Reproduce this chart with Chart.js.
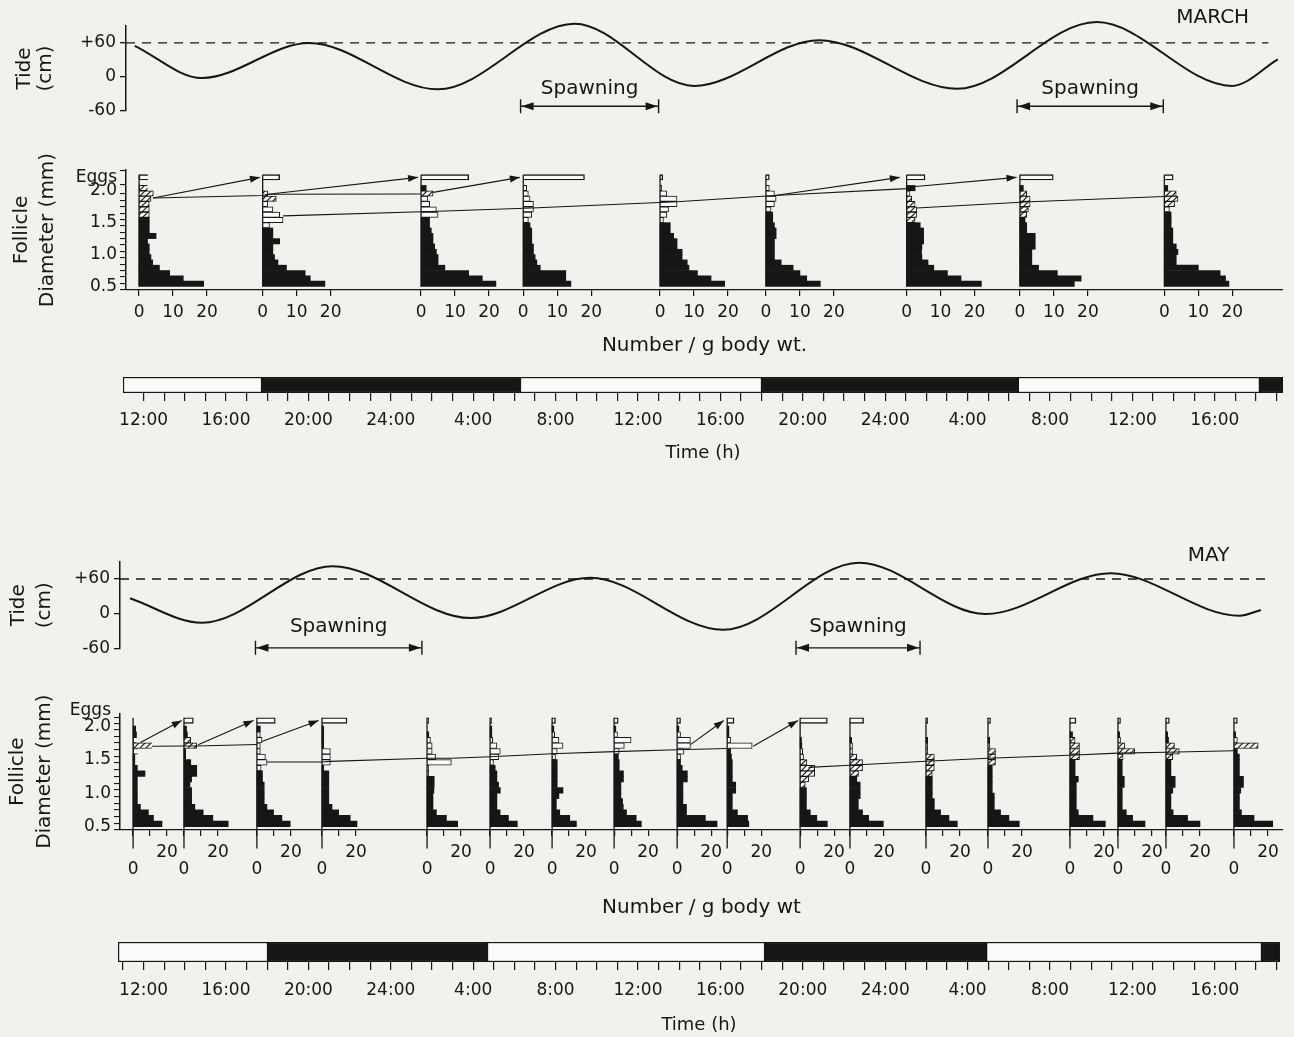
<!DOCTYPE html>
<html>
<head>
<meta charset="utf-8">
<title>Tide, follicle diameter and spawning - March and May</title>
<script src="https://cdn.jsdelivr.net/npm/chart.js@4.4.0/dist/chart.umd.min.js"></script>
<style>
  body { margin: 0; background: #f3f1ee; }
  #fig { position: relative; width: 1294px; height: 1037px; }
  #fig canvas { position: absolute; left: 0; }
</style>
</head>
<body>
<div id="fig">
  <canvas id="marchTide" width="1294" height="125" style="top:0px"></canvas>
  <canvas id="marchHist" width="1294" height="215" style="top:150px"></canvas>
  <canvas id="marchDay" width="1294" height="105" style="top:365px"></canvas>
  <canvas id="mayTide" width="1294" height="125" style="top:540px"></canvas>
  <canvas id="mayHist" width="1294" height="235" style="top:690px"></canvas>
  <canvas id="mayDay" width="1294" height="107" style="top:930px"></canvas>
</div>
<script>
// time is in hours counted from 12:00 on the first day
const timeLabels = ['12:00', '16:00', '20:00', '24:00', '4:00', '8:00', '12:00',
  '16:00', '20:00', '24:00', '4:00', '8:00', '12:00', '16:00'];
const tideTickLabels = { '-60': '-60', '0': '0', '60': '+60' };

// tide turning points [hour, cm]
const marchTide = [[-0.43, 55], [2.83, -2], [8.03, 60], [14.28, -22], [20.92, 94], [26.72, -16],
  [32.79, 65], [39.49, -21], [46.26, 97], [52.83, -16], [55.06, 31]];
const mayTide = [[-0.66, 27], [2.83, -15], [9.17, 82], [15.89, -7], [21.67, 62], [28.13, -27],
  [34.73, 88], [40.88, 0], [46.95, 70], [53.2, -3], [54.24, 7]];

// spawning periods [start, end]
const marchSpawn = [[18.3, 25.0], [42.4, 49.5]];
const maySpawn = [[5.43, 13.51], [31.67, 37.69]];

// light / dark periods
const marchLight = [[-1.0, 5.75], [18.27, 30.02], [42.44, 54.19]];
const marchDark = [[5.75, 18.27], [30.02, 42.44], [54.19, 55.32]];
const mayLight = [[-1.24, 6.04], [16.67, 30.17], [40.9, 54.29]];
const mayDark = [[6.04, 16.67], [30.17, 40.9], [54.29, 55.17]];

// follicle samples: time, counts per 1/12 mm class from 0.5 mm, stage of each class, eggs
// stage: B = previtellogenic (black), H = maturing (hatched), O = maturing (open)
const marchTimes = [-0.22, 5.78, 13.47, 18.43, 25.07, 30.21, 37.04, 42.54, 49.55];
const marchCounts = [
  [19, 13, 9, 6, 4, 3.5, 3, 3, 2.5, 5, 3, 3, 3, 3, 3, 3, 3.5, 4.2, 2.5],
  [18.3, 14, 12.5, 7, 4.5, 3.5, 3, 3, 5, 3, 3, 2, 6, 5, 3, 1.5, 4, 1.5, 0],
  [22, 18, 14, 7, 5, 5, 4.5, 4, 3.5, 3.5, 3, 2.5, 2.5, 5, 4.5, 2.5, 2, 3.5, 1.5],
  [14, 12.5, 12.5, 5, 4, 3.5, 3, 3, 2.5, 2.5, 2.5, 2, 1.5, 2.5, 3, 3, 2, 1.5, 1],
  [19, 15, 11, 8.5, 8, 6.5, 6.5, 5, 5, 4, 3, 3, 1, 2, 2.5, 5, 5, 2, 0.5],
  [16, 12, 10, 8, 4.5, 2.5, 2.5, 2.5, 2.5, 3, 3, 2.5, 2, 2, 1.5, 2.5, 3, 2.5, 1],
  [22, 16, 12, 8, 6.3, 4.5, 4.4, 4.5, 5, 5, 5, 4, 2.5, 3, 3, 2.5, 1.5, 1, 2.5],
  [16, 18, 11, 5.5, 3.5, 3.5, 3.5, 4.5, 4.5, 4.5, 2, 2, 1.5, 2, 2.5, 3, 3, 2, 1],
  [19, 18, 16.4, 10, 3.5, 3.5, 4, 3.5, 2.5, 2.5, 2.5, 2, 2, 2, 1.5, 3, 4, 3.5, 1]
];
const marchStages = ['BBBBBBBBBBBBBHHHHHH', 'BBBBBBBBBBBOOOOOHHB', 'BBBBBBBBBBBBBOOOOHB',
  'BBBBBBBBBBBBOOOOOOO', 'BBBBBBBBBBBBOOOOOOO', 'BBBBBBBBBBBBBBOOOOO', 'BBBBBBBBBBBBHHHHHOB',
  'BBBBBBBBBBBBBHHHHHB', 'BBBBBBBBBBBBBBOHHHB'];
const marchEggs = [2.6, 5, 14, 18, 0.8, 1, 5.4, 9.8, 2.6];
// cohort lines and arrows to eggs: [sample, count, mm]
const marchChains = [
  [[0, 4.1, 1.886], [1, 0, 1.926], [1, 1.6, 1.945], [2, 0, 1.95]],
  [[1, 6, 1.606], [2, 5, 1.68], [3, 2.5, 1.73], [4, 4.9, 1.827], [5, 2.6, 1.926], [6, 0, 2.034], [6, 1.9, 2.063]],
  [[6, 2.9, 1.729], [7, 2.9, 1.827], [8, 0, 1.91]]
];
const marchArrows = [
  [[0, 4.1, 1.886], [1, -0.8, 'eggs']],
  [[1, 1.6, 1.945], [2, -0.9, 'eggs']],
  [[2, 3.5, 1.975], [3, -1, 'eggs']],
  [[5, 2.6, 1.926], [6, -2, 'eggs']],
  [[6, 1.9, 2.063], [7, -1, 'eggs']]
];

const mayTimes = [-0.51, 1.96, 5.5, 8.66, 13.76, 16.82, 19.83, 22.84, 25.9, 28.33, 31.87, 34.29,
  37.98, 40.99, 44.97, 47.3, 49.63, 52.93];
const mayCounts = [
  [17, 12, 9, 4.3, 2.5, 2.5, 2.5, 2.5, 2.5, 7, 2.5, 1, 1, 3, 11, 2, 2, 1.5],
  [26, 17, 11.3, 6.4, 4.5, 4.5, 4.5, 3.5, 4.5, 7.5, 7.5, 4, 1, 1, 7.5, 4, 2, 1.5],
  [19.6, 14.7, 9.8, 5.9, 4.3, 4.3, 4.3, 4.3, 3.3, 3.3, 2.5, 6, 5, 2, 2, 3, 2, 2],
  [20.6, 16.6, 9.8, 5.9, 4, 4, 4, 4, 4, 4, 1, 4.9, 4.9, 4.9, 1, 1, 1, 1],
  [18, 11.4, 5.5, 3.5, 3.5, 3.5, 4, 4.2, 4.2, 1, 1, 14.3, 5, 3, 3, 2, 1, 0],
  [16, 10.8, 5.9, 4, 4, 4, 6, 5, 4, 4, 3, 2, 5, 6, 4, 1.5, 1, 1],
  [14.3, 10.4, 4.5, 2.5, 2.5, 4, 6.4, 3, 3, 3, 3, 3, 2, 3, 6.4, 4, 1.5, 1],
  [16, 13, 7.3, 5.4, 5, 4, 4, 4, 5.5, 5.5, 3, 3, 2.5, 3, 6, 10, 2, 1],
  [23.5, 16.6, 5.5, 5.5, 3.4, 3.4, 3.4, 3.4, 6, 6, 3, 2, 2, 4, 7.8, 7.8, 2, 1],
  [12.7, 12, 6, 3, 3, 3, 5, 5, 3, 3, 3, 3, 2.5, 2, 14.7, 2, 1, 1],
  [16, 9.8, 6, 3.7, 3.7, 3.7, 3.7, 3, 5, 8.6, 8.6, 4, 2, 1.5, 1, 0.8, 0, 0],
  [19.6, 11, 7.4, 4.9, 4.9, 6, 6, 6, 4, 5, 7.4, 7.4, 4, 1.5, 1.5, 1, 0, 0],
  [18.4, 13.5, 8.6, 4.9, 4.9, 3.7, 3.7, 3.7, 3.7, 3.7, 4.9, 4.9, 4.9, 1, 1, 1, 0, 0],
  [18.4, 12.3, 7.4, 3.7, 3.7, 3.7, 2.5, 2.5, 2.5, 2.5, 2.5, 4.4, 4.4, 4.4, 1, 1, 0, 0],
  [20.8, 13.5, 4.9, 3.7, 3.7, 3.7, 3.7, 3.7, 4.9, 3, 3, 3, 5.6, 5.6, 5.6, 3, 1.5, 0],
  [15.9, 8.6, 4.9, 2.5, 2.5, 2.5, 2.5, 3.7, 3.7, 2.5, 2.5, 2.5, 3, 9.8, 4, 1.5, 1, 0],
  [20, 12.7, 4.2, 2.9, 2.9, 2.9, 4, 5.4, 5.4, 2.9, 2.9, 2.9, 4, 7.8, 5, 1.5, 1, 0],
  [22.8, 11.8, 4.4, 3.2, 3.2, 3.2, 4, 5.6, 5.6, 3.2, 3.2, 3.2, 3.2, 2, 14.2, 2, 1, 0]
];
const mayStages = ['BBBBBBBBBBBBBOHOBB', 'BBBBBBBBBBBBBBHHBB', 'BBBBBBBBBBOOOOOOOB', 'BBBBBBBBBBBOOOBBBB',
  'BBBBBBBBBOOOOOOOBB', 'BBBBBBBBBBBOOOOOBB', 'BBBBBBBBBBBBOOOOOB', 'BBBBBBBBBBBBBOOOOB',
  'BBBBBBBBBBBBOOOOOB', 'BBBBBBBBBBBBBBOOBB', 'BBBBBBBHHHHHOOBBBB', 'BBBBBBBBBHHHHOOBBB',
  'BBBBBBBBBHHHHOOBBB', 'BBBBBBBBBBBHHHOBBB', 'BBBBBBBBBBBBHHHHBB', 'BBBBBBBBBBBBHHHOBB',
  'BBBBBBBBBBBBHHHBBB', 'BBBBBBBBBBBBBBHOBB'];
const mayEggs = [0, 5.5, 10.8, 14.7, 1, 1, 2, 2.4, 2, 4, 16, 8, 1, 1.5, 3.5, 1.5, 2, 2];
const mayChains = [
  [[0, 11.2, 1.701], [1, 0, 1.704], [1, 7.5, 1.704], [2, 0, 1.727]],
  [[2, 5.9, 1.466], [3, 0, 1.466], [3, 4.9, 1.475], [4, 0, 1.52], [4, 14.3, 1.52], [5, 0, 1.544],
   [6, 0, 1.588], [7, 0, 1.62], [8, 0, 1.647], [9, 0, 1.666]],
  [[10, 5, 1.384], [11, 0, 1.416], [12, 0, 1.476], [13, 0, 1.52], [14, 0, 1.565], [15, 0, 1.598],
   [16, 0, 1.61], [17, 0, 1.633]]
];
const mayArrows = [
  [[0, 4.3, 1.756], [1, -1.3, 'eggs']],
  [[1, 8.4, 1.724], [2, -2, 'eggs']],
  [[2, 2.9, 1.77], [3, -2, 'eggs']],
  [[8, 7.8, 1.724], [9, -2, 'eggs']],
  [[9, 15.3, 1.7], [10, -1.2, 'eggs']]
];

const ink = '#161616';
const paper = '#fcfbf9';
const binW = 1 / 12;
const PX12 = 143.6, PXH = 20.6;   // page x of 12:00 on day 1, px per hour

Chart.defaults.font.family = "'DejaVu Sans', sans-serif";
Chart.defaults.color = ink;

function hourRange(left, right) {
  return { min: (left - PX12) / PXH, max: (right - PX12) / PXH };
}

function makeHatch() {
  const c = document.createElement('canvas');
  c.width = 6; c.height = 6;
  const g = c.getContext('2d');
  g.fillStyle = paper; g.fillRect(0, 0, 6, 6);
  g.strokeStyle = ink; g.lineWidth = 1.2;
  g.beginPath();
  g.moveTo(0, 6); g.lineTo(6, 0);
  g.moveTo(-1, 1); g.lineTo(1, -1);
  g.moveTo(5, 7); g.lineTo(7, 5);
  g.stroke();
  return g.createPattern(c, 'repeat');
}
const hatchFill = makeHatch();

function arrowHead(ctx, x1, y1, x0, y0, len, half) {
  const a = Math.atan2(y1 - y0, x1 - x0);
  const c = Math.cos(a), s = Math.sin(a);
  ctx.beginPath();
  ctx.moveTo(x1, y1);
  ctx.lineTo(x1 - len * c + half * s, y1 - len * s - half * c);
  ctx.lineTo(x1 - len * c - half * s, y1 - len * s + half * c);
  ctx.closePath();
  ctx.fill();
}

function drawTide(id, pts, spawns, p) {
  const r = hourRange(p.axisX, 1283);
  new Chart(document.getElementById(id), {
    type: 'line',
    data: {
      datasets: [
        { data: pts.map(d => ({ x: d[0], y: d[1] })), borderColor: ink, borderWidth: 2,
          pointRadius: 0, cubicInterpolationMode: 'monotone', clip: false },
        { data: [{ x: r.min, y: 60 }, { x: 54.6, y: 60 }], borderColor: ink, borderWidth: 1.3,
          borderDash: [9, 7], pointRadius: 0 }
      ]
    },
    options: {
      responsive: false, animation: false, devicePixelRatio: 1,
      layout: { padding: { left: p.padLeft, right: 11, top: p.padTop, bottom: p.padBottom } },
      plugins: { legend: { display: false }, tooltip: { enabled: false } },
      scales: {
        x: { type: 'linear', min: r.min, max: r.max, display: false },
        y: {
          min: -60, max: 90,
          afterFit: s => { s.width = p.axisX - p.padLeft; },
          ticks: { stepSize: 30, callback: v => tideTickLabels[v] || '', font: { size: 17 }, padding: 4, color: ink },
          grid: { drawOnChartArea: false, tickLength: 6, color: ink, lineWidth: 1.3 },
          border: { color: ink, width: 1.5 },
          title: { display: true, text: ['Tide', '(cm)'], font: { size: 20, lineHeight: p.titleLH }, padding: 0, color: ink }
        }
      }
    },
    plugins: [{
      id: 'tideMarks',
      afterDatasetsDraw(chart) {
        const { ctx, scales: { x, y } } = chart;
        ctx.save();
        ctx.strokeStyle = ink; ctx.fillStyle = ink; ctx.lineWidth = 1.4;
        spawns.forEach(([a, b]) => {
          const xa = x.getPixelForValue(a), xb = x.getPixelForValue(b), ya = y.getPixelForValue(p.arrowAt);
          ctx.beginPath();
          ctx.moveTo(xa, ya); ctx.lineTo(xb, ya);
          ctx.moveTo(xa, ya - 7); ctx.lineTo(xa, ya + 7);
          ctx.moveTo(xb, ya - 7); ctx.lineTo(xb, ya + 7);
          ctx.stroke();
          arrowHead(ctx, xa + 1, ya, xb, ya, 12, 4);
          arrowHead(ctx, xb - 1, ya, xa, ya, 12, 4);
          ctx.font = "20px 'DejaVu Sans', sans-serif";
          ctx.textAlign = 'center'; ctx.textBaseline = 'middle';
          ctx.fillText('Spawning', (xa + xb) / 2, y.getPixelForValue(p.textAt));
        });
        ctx.font = "20px 'DejaVu Sans', sans-serif";
        ctx.textAlign = 'center'; ctx.textBaseline = 'middle';
        ctx.fillText(p.month, x.getPixelForValue(p.monthAt[0]), y.getPixelForValue(p.monthAt[1]));
        ctx.restore();
      }
    }]
  });
}

function drawHist(id, p) {
  const r = hourRange(p.axisX, 1283);
  const sets = { B: [], H: [], O: [], E: [] };
  p.times.forEach((t, h) => {
    p.counts[h].forEach((c, i) => {
      if (c > 0) sets[p.stages[h][i]].push({ x: [t, t + c * p.perCount], y: 0.5 + (i + 0.5) * binW });
    });
    if (p.eggs[h] > 0) sets.E.push({ x: [t, t + p.eggs[h] * p.perCount], y: p.eggsAt });
  });
  const common = { barPercentage: 1, categoryPercentage: 1, grouped: false };
  const datasets = [
    Object.assign({ data: sets.B, backgroundColor: ink, borderWidth: 0 }, common),
    Object.assign({ data: sets.H, backgroundColor: hatchFill, borderColor: ink, borderWidth: 1 }, common),
    Object.assign({ data: sets.O, backgroundColor: paper, borderColor: ink, borderWidth: 1 }, common),
    Object.assign({ data: sets.E, backgroundColor: paper, borderColor: ink, borderWidth: 1.4 }, common)
  ];
  const yTicks = [];
  for (let i = 0; i <= 15; i++) yTicks.push((5 + i) / 10);
  yTicks.push(p.eggsAt);

  new Chart(document.getElementById(id), {
    type: 'bar',
    data: { datasets },
    options: {
      indexAxis: 'y',
      responsive: false, animation: false, devicePixelRatio: 1,
      layout: { padding: { left: p.padLeft, right: 11, top: p.padTop, bottom: 0 } },
      plugins: { legend: { display: false }, tooltip: { enabled: false } },
      scales: {
        x: {
          type: 'linear', min: r.min, max: r.max,
          afterFit: s => { s.height = p.xHeight; },
          afterBuildTicks: s => {
            const ticks = [];
            p.times.forEach(t => p.tickCounts.forEach(c => ticks.push({ value: t + c * p.perCount, lab: p.tickText[c] })));
            ticks.sort((a, b) => a.value - b.value);
            s.ticks = ticks;
          },
          ticks: { autoSkip: false, maxRotation: 0, minRotation: 0, padding: p.tickPad,
            font: { size: 17, lineHeight: p.tickLH }, color: ink,
            callback: (v, i, ticks) => ticks[i].lab },
          grid: { drawOnChartArea: false, tickLength: 6, color: ink, lineWidth: 1.2 },
          border: { color: ink, width: 1.3 },
          title: { display: true, text: p.xTitle, font: { size: 20 }, padding: { top: 0, bottom: p.titlePad }, color: ink }
        },
        y: {
          type: 'linear', min: 0.5, max: p.yMax,
          afterFit: s => { s.width = p.axisX - p.padLeft; },
          afterBuildTicks: s => { s.ticks = yTicks.map(v => ({ value: v })); },
          ticks: { autoSkip: false, font: { size: 17 }, padding: 3, color: ink,
            callback: v => v === p.eggsAt ? p.eggsLabel
              : ([0.5, 1, 1.5, 2].some(u => Math.abs(u - v) < 1e-6) ? v.toFixed(1) : '') },
          grid: { drawOnChartArea: false, tickLength: 6, color: ink, lineWidth: 1.1 },
          border: { color: ink, width: 1.5 },
          title: { display: true, text: ['Follicle', 'Diameter (mm)'], font: { size: 20, lineHeight: p.titleLH }, padding: 0, color: ink }
        }
      }
    },
    plugins: [{
      id: 'histMarks',
      afterDatasetsDraw(chart) {
        const { ctx, scales: { x, y } } = chart;
        const px = (h, c) => x.getPixelForValue(p.times[h] + c * p.perCount);
        const py = mm => y.getPixelForValue(mm === 'eggs' ? p.eggsAt : mm);
        ctx.save();
        ctx.strokeStyle = ink; ctx.fillStyle = ink;
        ctx.lineWidth = 1.3;
        p.times.forEach((t, h) => {
          const xx = px(h, 0);
          ctx.beginPath();
          ctx.moveTo(xx, y.getPixelForValue(0.5) + p.stemDrop);
          ctx.lineTo(xx, py(p.eggsAt + binW / 2));
          ctx.stroke();
        });
        ctx.lineWidth = 1.1;
        p.chains.forEach(chain => {
          ctx.beginPath();
          chain.forEach(([h, c, mm], k) => {
            if (k === 0) ctx.moveTo(px(h, c), py(mm)); else ctx.lineTo(px(h, c), py(mm));
          });
          ctx.stroke();
        });
        p.arrows.forEach(([a, b]) => {
          const x0 = px(a[0], a[1]), y0 = py(a[2]), x1 = px(b[0], b[1]), y1 = py(b[2]);
          ctx.beginPath(); ctx.moveTo(x0, y0); ctx.lineTo(x1, y1); ctx.stroke();
          arrowHead(ctx, x1, y1, x0, y0, 10, 3.5);
        });
        ctx.restore();
      }
    }]
  });
}

function drawDay(id, light, dark, p) {
  const r = hourRange(p.left, p.right);
  const common = { barPercentage: 1, categoryPercentage: 1, grouped: false, borderSkipped: false, borderColor: ink, borderWidth: 1.5 };
  new Chart(document.getElementById(id), {
    type: 'bar',
    data: {
      labels: ['day'],
      datasets: [
        Object.assign({ data: light.map(s => ({ x: s, y: 'day' })), backgroundColor: paper }, common),
        Object.assign({ data: dark.map(s => ({ x: s, y: 'day' })), backgroundColor: ink }, common)
      ]
    },
    options: {
      indexAxis: 'y',
      responsive: false, animation: false, devicePixelRatio: 1,
      layout: { padding: { left: p.left, right: 1294 - p.right, top: p.padTop, bottom: 0 } },
      plugins: { legend: { display: false }, tooltip: { enabled: false } },
      scales: {
        y: { type: 'category', display: false },
        x: {
          type: 'linear', min: r.min, max: r.max,
          afterFit: s => { s.height = p.xHeight; },
          afterBuildTicks: s => {
            const ticks = [];
            for (let v = Math.ceil(r.min); v <= Math.floor(r.max); v++) ticks.push({ value: v });
            s.ticks = ticks;
          },
          ticks: { autoSkip: false, maxRotation: 0, minRotation: 0, padding: p.tickPad, font: { size: 17 }, color: ink,
            callback: v => (v >= 0 && v % 4 === 0 && v / 4 < timeLabels.length) ? timeLabels[v / 4] : '' },
          grid: { drawOnChartArea: false, tickLength: 8, color: ink, lineWidth: 1.2 },
          border: { display: false },
          title: { display: true, text: 'Time (h)', font: { size: 18 }, padding: { top: 0, bottom: p.titlePad }, color: ink }
        }
      }
    }
  });
}

// MARCH
drawTide('marchTide', marchTide, marchSpawn, {
  axisX: 126, padLeft: 14, padTop: 26, padBottom: 12.3, titleLH: 1.05,
  arrowAt: -52, textAt: -20.5, month: 'MARCH', monthAt: [51.9, 105]
});
drawHist('marchHist', {
  times: marchTimes, counts: marchCounts, stages: marchStages, eggs: marchEggs,
  chains: marchChains, arrows: marchArrows, eggsAt: 2.21, eggsLabel: 'Eggs',
  perCount: 3.4 / PXH, tickCounts: [0, 10, 20], tickText: { 0: '0', 10: '10', 20: '20' }, tickLH: 1.2,
  axisX: 126, padLeft: 9, padTop: 20, yMax: 2.27, xHeight: 75, tickPad: 6, titlePad: 7, titleLH: 1.3,
  stemDrop: 0, xTitle: 'Number / g body wt.'
});
drawDay('marchDay', marchLight, marchDark, { left: 123, right: 1283, padTop: 12, xHeight: 77, tickPad: 9, titlePad: 6 });

// MAY
drawTide('mayTide', mayTide, maySpawn, {
  axisX: 120, padLeft: 6, padTop: 21.5, padBottom: 16, titleLH: 1.3,
  arrowAt: -58, textAt: -22, month: 'MAY', monthAt: [51.7, 99.5]
});
drawHist('mayHist', {
  times: mayTimes, counts: mayCounts, stages: mayStages, eggs: mayEggs,
  chains: mayChains, arrows: mayArrows, eggsAt: 2.085, eggsLabel: ['Eggs', ''],
  perCount: 1.7 / PXH, tickCounts: [0, 10, 20], tickText: { 0: ['', '0'], 10: '', 20: '20' }, tickLH: 1.0,
  axisX: 120, padLeft: 4, padTop: 19.5, yMax: 2.14, xHeight: 95, tickPad: 8.5, titlePad: 5, titleLH: 1.35,
  stemDrop: 22, xTitle: 'Number / g body wt'
});
drawDay('mayDay', mayLight, mayDark, { left: 118, right: 1280, padTop: 12, xHeight: 75, tickPad: 10, titlePad: 1 });
</script>
</body>
</html>
